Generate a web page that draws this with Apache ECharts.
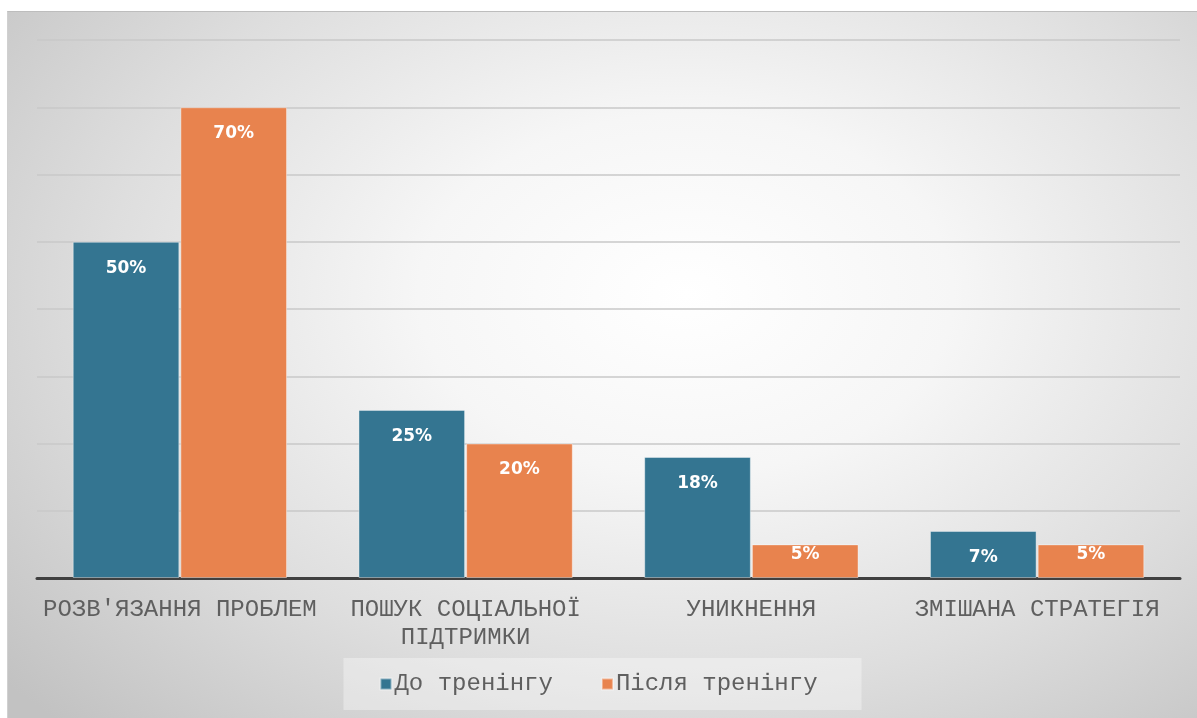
<!DOCTYPE html>
<html><head><meta charset="utf-8">
<script src="https://cdn.jsdelivr.net/npm/echarts@6/dist/echarts.min.js"></script>
<style>
html,body{margin:0;padding:0;background:#fff;}
#bg{position:absolute;left:7px;top:11px;width:1190px;height:707px;border-top:1px solid #bdbdbd;border-left:1px solid #d0d0d0;box-sizing:border-box;
background:radial-gradient(ellipse 75% 85% at 57% 40%, #ffffff 0%, #f6f6f6 30%, #dedede 65%, #c2c2c2 100%);}
#chart{position:absolute;left:0;top:0;width:1197px;height:718px;}
</style></head>
<body><div id="bg"></div><div id="chart"></div>
<script>
const categories = ["РОЗВ'ЯЗАННЯ ПРОБЛЕМ", "ПОШУК СОЦІАЛЬНОЇ\nПІДТРИМКИ", "УНИКНЕННЯ", "ЗМІШАНА СТРАТЕГІЯ"];
const seriesNames = ["До тренінгу", "Після тренінгу"];
const beforeValues = [50, 25, 18, 7];
const afterValues = [70, 20, 5, 5];
const yMin = 0, yMax = 80, yInterval = 10;

const colors = ['#347591', '#e8834e'];
function items(vals){
  return vals.map(v => v < 6 ? {value: v, label: {distance: 2}} : v);
}
const labelStyle = {
  show: true, position: 'insideTop', distance: 18,
  formatter: p => p.value + '%',
  color: '#fff', fontFamily: 'DejaVu Sans', fontWeight: 'bold', fontSize: 17, letterSpacing: 2
};
const chart = echarts.init(document.getElementById('chart'), null, {renderer: 'canvas'});
chart.setOption({
  backgroundColor: 'transparent',
  animation: false,
  color: colors,
  grid: {left: 37, right: 17, top: 40, bottom: 140, containLabel: false},
  legend: {
    bottom: 8, left: 'center',
    itemWidth: 11, itemHeight: 11, itemGap: 48, icon: 'rect',
    padding: [14, 44, 14, 36],
    backgroundColor: 'rgba(255,255,255,0.35)',
    textStyle: {fontFamily: 'Liberation Mono', fontSize: 24, color: '#5f5f5f', padding: [0,0,0,-2]},
    data: seriesNames
  },
  xAxis: {
    type: 'category', data: categories,
    axisLine: {lineStyle: {color: '#404040', width: 3}},
    axisTick: {show: false},
    axisLabel: {fontFamily: 'Liberation Mono', fontSize: 24, color: '#5f5f5f', margin: 18, lineHeight: 28, interval: 0}
  },
  yAxis: {
    type: 'value', min: yMin, max: yMax, interval: yInterval,
    axisLabel: {show: false}, axisLine: {show: false}, axisTick: {show: false},
    splitLine: {lineStyle: {color: '#c8c8c8', width: 1.5}}
  },
  series: [
    {name: seriesNames[0], type: 'bar', data: items(beforeValues), barGap: '1%', barCategoryGap: '25%',
     itemStyle: {color: colors[0], borderColor: 'rgba(255,255,255,0.4)', borderWidth: 1}, label: labelStyle},
    {name: seriesNames[1], type: 'bar', data: items(afterValues),
     itemStyle: {color: colors[1], borderColor: 'rgba(255,255,255,0.4)', borderWidth: 1}, label: labelStyle}
  ]
});
</script></body></html>
